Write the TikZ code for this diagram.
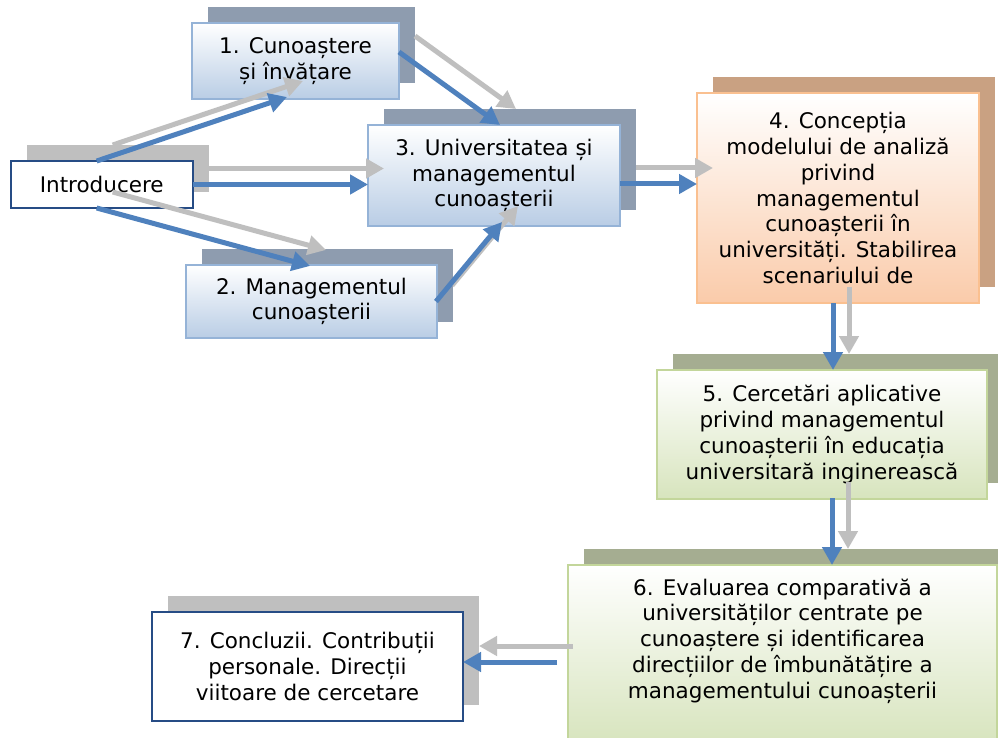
\documentclass[tikz,border=0pt]{standalone}
\usepackage{fontspec}
\setmainfont{DejaVu Sans}
\usetikzlibrary{arrows.meta,backgrounds}

\definecolor{blueedge}{RGB}{149,179,215}
\definecolor{bluefill}{RGB}{185,205,229}
\definecolor{blueshade}{RGB}{142,156,175}
\definecolor{peachedge}{RGB}{250,192,144}
\definecolor{peachfill}{RGB}{250,203,170}
\definecolor{brownshade}{RGB}{201,161,130}
\definecolor{greenedge}{RGB}{195,214,155}
\definecolor{greenfill}{RGB}{215,228,189}
\definecolor{oliveshade}{RGB}{165,173,145}
\definecolor{greyshade}{RGB}{191,191,191}
\definecolor{darkedge}{RGB}{38,76,133}
\definecolor{arrowblue}{RGB}{79,129,189}
\definecolor{arrowgrey}{RGB}{191,191,191}

% offset shadow block behind a box
\newcommand\castshadow[2]{%
  \fill[#2] ([shift={(16,-16)}]#1.south west) rectangle ([shift={(16,-16)}]#1.north east);}

\begin{document}
\begin{tikzpicture}[x=1pt,y=-1pt,
  box/.style={rectangle, inner sep=0pt, outer sep=0pt, align=center,
    font=\fontsize{21.5}{25.8}\selectfont, text=black},
  bluebox/.style={box, draw=blueedge, line width=2.5pt, top color=white, bottom color=bluefill},
  peachbox/.style={box, draw=peachedge, line width=2.5pt, top color=white, bottom color=peachfill},
  greenbox/.style={box, draw=greenedge, line width=2.5pt, top color=white, bottom color=greenfill},
  plainbox/.style={box, draw=darkedge, line width=2pt, fill=white},
  flow/.style={line width=5pt, draw=arrowblue, -{Triangle[length=18pt,width=19pt]}},
  flowshade/.style={line width=5pt, draw=arrowgrey, -{Triangle[length=18pt,width=19pt]}},
]
\useasboundingbox (0,0) rectangle (998,738);

% boxes
\node[plainbox, minimum width=182pt, minimum height=47pt] (intro) at (101.7,184.5) {Introducere};
\node[bluebox, minimum width=207pt, minimum height=76pt] (b1) at (295.5,61) {1. Cunoaștere\\și învățare};
\node[bluebox, minimum width=251pt, minimum height=73pt] (b2) at (311.5,301.5) {2. Managementul\\cunoașterii};
\node[bluebox, minimum width=252pt, minimum height=101pt] (b3) at (494,175.5) {3. Universitatea și\\managementul\\cunoașterii};
\node[peachbox, minimum width=282pt, minimum height=210pt] (b4) at (838,198)
  {4. Concepția\\modelului de analiză\\privind\\managementul\\cunoașterii în\\universități. Stabilirea\\scenariului de};
\node[greenbox, minimum width=330pt, minimum height=129pt] (b5) at (822,434.5)
  {5. Cercetări aplicative\\privind managementul\\cunoașterii în educația\\universitară inginerească};
\node[greenbox, minimum width=429pt, minimum height=180pt] (b6) at (782.5,655) {};
\node[box] (b6text) at (782.5,641)
  {6. Evaluarea comparativă a\\universităților centrate pe\\cunoaștere și identificarea\\direcțiilor de îmbunătățire a\\managementului cunoașterii};
\node[plainbox, minimum width=311pt, minimum height=109pt] (b7) at (307.5,666.5)
  {7. Concluzii. Contribuții\\personale. Direcții\\viitoare de cercetare};

% page ground and shadow blocks
\begin{pgfonlayer}{background}
  \fill[white] (0,0) rectangle (998,738);
  \castshadow{intro}{greyshade}
  \castshadow{b1}{blueshade}
  \castshadow{b2}{blueshade}
  \castshadow{b3}{blueshade}
  \castshadow{b4}{brownshade}
  \castshadow{b5}{oliveshade}
  \castshadow{b6}{oliveshade}
  \castshadow{b7}{greyshade}
\end{pgfonlayer}

% connector end points
\coordinate (s1) at ([shift={(-5,0)}]intro.north);
\coordinate (e1) at ([shift={(95,-2)}]b1.south west);
\coordinate (s2) at (intro.east);
\coordinate (e2) at (intro.east -| b3.west);
\coordinate (s3) at ([shift={(-5,0)}]intro.south);
\coordinate (e3) at ([shift={(124,1)}]b2.north west);
\coordinate (s4) at ([shift={(0,29)}]b1.north east);
\coordinate (e4) at ([shift={(132,0)}]b3.north west);
\coordinate (s5) at ([shift={(-1,0)}]b2.east);
\coordinate (e5) at ([shift={(134,-4)}]b3.south west);
\coordinate (s6) at ([shift={(0,8.5)}]b3.east);
\coordinate (e6) at (s6 -| b4.west);
\coordinate (s7) at ([shift={(-5,0)}]b4.south);
\coordinate (e7) at (s7 |- b5.north);
\coordinate (s8) at ([shift={(10,-1)}]b5.south);
\coordinate (e8) at (s8 |- b6.north);
\coordinate (s9) at ([shift={(-11,7)}]b6.west);
\coordinate (e9) at (s9 -| b7.east);

% grey offset copies first, then the blue connectors
\foreach \i in {1,...,9}
  \draw[flowshade] ([shift={(16,-16)}]s\i) -- ([shift={(16,-16)}]e\i);
\foreach \i in {1,...,9}
  \draw[flow] (s\i) -- (e\i);
\end{tikzpicture}
\end{document}
